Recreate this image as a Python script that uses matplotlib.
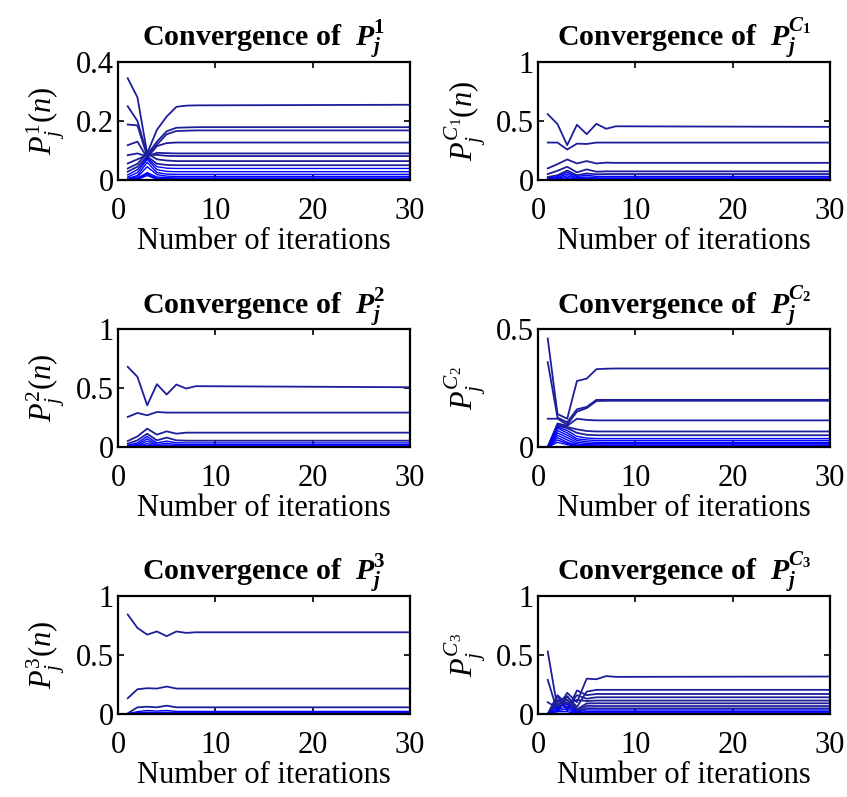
import matplotlib
matplotlib.use("Agg")
import matplotlib.pyplot as plt
from matplotlib.ticker import FormatStrFormatter

plt.rcParams['font.family'] = ['Liberation Serif', 'DejaVu Serif']
plt.rcParams['mathtext.fontset'] = 'custom'
plt.rcParams['mathtext.rm'] = 'Liberation Serif'
plt.rcParams['mathtext.it'] = 'Liberation Serif:italic'
plt.rcParams['mathtext.bf'] = 'Liberation Serif:bold'
plt.rcParams['mathtext.bfit'] = 'Liberation Serif:italic:bold'

# iteration index at which each probability is recorded (flat after 8)
iters = [1, 2, 3, 4, 5, 6, 7, 8, 30]

# P_j^1(n)
p1_series = [
    [0.345, 0.280, 0.090, 0.170, 0.215, 0.248, 0.252, 0.253, 0.255],
    [0.250, 0.200, 0.085, 0.130, 0.165, 0.177, 0.178, 0.179, 0.179],
    [0.188, 0.185, 0.080, 0.120, 0.155, 0.166, 0.167, 0.168, 0.168],
    [0.118, 0.130, 0.075, 0.115, 0.125, 0.127, 0.127, 0.127, 0.127],
    [0.084, 0.090, 0.080, 0.092, 0.091, 0.090, 0.090, 0.090, 0.090],
    [0.056, 0.070, 0.085, 0.085, 0.082, 0.081, 0.081, 0.081, 0.081],
    [0.039, 0.055, 0.090, 0.070, 0.066, 0.064, 0.064, 0.064, 0.064],
    [0.028, 0.045, 0.080, 0.055, 0.051, 0.050, 0.050, 0.050, 0.050],
    [0.017, 0.035, 0.075, 0.045, 0.040, 0.039, 0.039, 0.039, 0.039],
    [0.010, 0.025, 0.070, 0.035, 0.029, 0.028, 0.028, 0.028, 0.028],
    [0.005, 0.015, 0.060, 0.025, 0.020, 0.019, 0.019, 0.019, 0.019],
    [0.003, 0.010, 0.045, 0.018, 0.013, 0.012, 0.012, 0.012, 0.012],
    [0.002, 0.006, 0.025, 0.010, 0.008, 0.007, 0.007, 0.007, 0.007],
    [0.001, 0.004, 0.020, 0.006, 0.004, 0.004, 0.004, 0.004, 0.004],
    [0.001, 0.002, 0.015, 0.003, 0.002, 0.002, 0.002, 0.002, 0.002],
    [0.000, 0.001, 0.022, 0.001, 0.001, 0.001, 0.001, 0.001, 0.001],
]

# P_j^{C_1}(n)
pc1_series = [
    [0.558, 0.474, 0.295, 0.468, 0.388, 0.476, 0.434, 0.455, 0.450],
    [0.317, 0.317, 0.258, 0.308, 0.305, 0.317, 0.317, 0.317, 0.317],
    [0.098, 0.134, 0.174, 0.140, 0.160, 0.140, 0.147, 0.145, 0.145],
    [0.050, 0.078, 0.112, 0.064, 0.090, 0.070, 0.073, 0.073, 0.073],
    [0.025, 0.040, 0.080, 0.040, 0.055, 0.048, 0.050, 0.050, 0.050],
    [0.015, 0.030, 0.065, 0.030, 0.040, 0.030, 0.030, 0.030, 0.030],
    [0.008, 0.020, 0.050, 0.020, 0.025, 0.018, 0.018, 0.018, 0.018],
    [0.004, 0.012, 0.035, 0.012, 0.015, 0.010, 0.010, 0.010, 0.010],
    [0.002, 0.006, 0.020, 0.006, 0.008, 0.005, 0.005, 0.005, 0.005],
    [0.001, 0.003, 0.010, 0.003, 0.004, 0.002, 0.002, 0.002, 0.002],
]

# P_j^2(n)
p2_series = [
    [0.680, 0.595, 0.354, 0.533, 0.445, 0.530, 0.496, 0.516, 0.507],
    [0.255, 0.289, 0.269, 0.297, 0.292, 0.292, 0.292, 0.292, 0.292],
    [0.051, 0.090, 0.156, 0.105, 0.133, 0.113, 0.122, 0.122, 0.122],
    [0.028, 0.057, 0.113, 0.057, 0.080, 0.057, 0.054, 0.054, 0.054],
    [0.015, 0.035, 0.090, 0.035, 0.050, 0.036, 0.035, 0.035, 0.035],
    [0.008, 0.022, 0.070, 0.022, 0.032, 0.022, 0.020, 0.020, 0.020],
    [0.004, 0.012, 0.050, 0.012, 0.018, 0.011, 0.010, 0.010, 0.010],
    [0.002, 0.006, 0.030, 0.006, 0.009, 0.005, 0.005, 0.005, 0.005],
    [0.001, 0.003, 0.015, 0.003, 0.004, 0.002, 0.002, 0.002, 0.002],
]

# P_j^{C_2}
pc2_series = [
    [0.460, 0.140, 0.120, 0.280, 0.290, 0.330, 0.332, 0.333, 0.333],
    [0.360, 0.125, 0.105, 0.160, 0.170, 0.200, 0.200, 0.200, 0.200],
    [0.120, 0.120, 0.095, 0.150, 0.165, 0.195, 0.196, 0.196, 0.196],
    [0.000, 0.100, 0.090, 0.120, 0.115, 0.113, 0.113, 0.113, 0.113],
    [0.000, 0.095, 0.085, 0.075, 0.068, 0.066, 0.066, 0.066, 0.066],
    [0.000, 0.090, 0.080, 0.060, 0.052, 0.050, 0.050, 0.050, 0.050],
    [0.000, 0.085, 0.070, 0.045, 0.038, 0.036, 0.036, 0.036, 0.036],
    [0.000, 0.080, 0.060, 0.035, 0.030, 0.028, 0.028, 0.028, 0.028],
    [0.000, 0.070, 0.050, 0.028, 0.022, 0.020, 0.020, 0.020, 0.020],
    [0.000, 0.060, 0.040, 0.020, 0.015, 0.014, 0.014, 0.014, 0.014],
    [0.000, 0.050, 0.030, 0.013, 0.010, 0.009, 0.009, 0.009, 0.009],
    [0.000, 0.040, 0.020, 0.008, 0.006, 0.005, 0.005, 0.005, 0.005],
    [0.000, 0.030, 0.015, 0.005, 0.003, 0.003, 0.003, 0.003, 0.003],
    [0.000, 0.020, 0.010, 0.003, 0.002, 0.001, 0.001, 0.001, 0.001],
]

# P_j^3(n)
p3_series = [
    [0.844, 0.730, 0.673, 0.700, 0.660, 0.700, 0.688, 0.693, 0.693],
    [0.134, 0.210, 0.219, 0.216, 0.233, 0.216, 0.216, 0.216, 0.216],
    [0.006, 0.057, 0.062, 0.057, 0.071, 0.057, 0.057, 0.057, 0.057],
    [0.002, 0.020, 0.030, 0.025, 0.030, 0.022, 0.022, 0.022, 0.022],
    [0.001, 0.010, 0.015, 0.012, 0.015, 0.011, 0.011, 0.011, 0.011],
    [0.000, 0.005, 0.008, 0.006, 0.008, 0.005, 0.005, 0.005, 0.005],
    [0.000, 0.002, 0.004, 0.003, 0.004, 0.002, 0.002, 0.002, 0.002],
]

# P_j^{C_3}
pc3_series = [
    [0.530, 0.050, 0.180, 0.100, 0.300, 0.295, 0.322, 0.315, 0.318],
    [0.290, 0.020, 0.150, 0.060, 0.190, 0.205, 0.205, 0.205, 0.205],
    [0.000, 0.150, 0.030, 0.200, 0.160, 0.170, 0.170, 0.170, 0.170],
    [0.000, 0.120, 0.050, 0.160, 0.130, 0.142, 0.142, 0.142, 0.142],
    [0.000, 0.160, 0.080, 0.120, 0.110, 0.114, 0.114, 0.114, 0.114],
    [0.000, 0.100, 0.150, 0.040, 0.090, 0.091, 0.091, 0.091, 0.091],
    [0.000, 0.080, 0.120, 0.030, 0.070, 0.068, 0.068, 0.068, 0.068],
    [0.100, 0.050, 0.100, 0.020, 0.050, 0.048, 0.048, 0.048, 0.048],
    [0.000, 0.060, 0.080, 0.015, 0.035, 0.034, 0.034, 0.034, 0.034],
    [0.000, 0.040, 0.060, 0.010, 0.020, 0.020, 0.020, 0.020, 0.020],
    [0.000, 0.030, 0.040, 0.005, 0.010, 0.010, 0.010, 0.010, 0.010],
    [0.000, 0.020, 0.020, 0.003, 0.005, 0.005, 0.005, 0.005, 0.005],
]

panels = [
    (p1_series, r'Convergence of  $\mathbfit{P}_{\mathbfit{j}}^{\mathbf{1}}$', r'$P_j^1(n)$', 0.4, [0, 0.2, 0.4]),
    (pc1_series, r'Convergence of  $\mathbfit{P}_{\mathbfit{j}}^{\mathbfit{C}_{\mathbf{1}}}$', r'$P_j^{C_1}(n)$', 1.0, [0, 0.5, 1]),
    (p2_series, r'Convergence of  $\mathbfit{P}_{\mathbfit{j}}^{\mathbf{2}}$', r'$P_j^2(n)$', 1.0, [0, 0.5, 1]),
    (pc2_series, r'Convergence of  $\mathbfit{P}_{\mathbfit{j}}^{\mathbfit{C}_{\mathbf{2}}}$', r'$P_j^{C_2}$', 0.5, [0, 0.5]),
    (p3_series, r'Convergence of  $\mathbfit{P}_{\mathbfit{j}}^{\mathbf{3}}$', r'$P_j^3(n)$', 1.0, [0, 0.5, 1]),
    (pc3_series, r'Convergence of  $\mathbfit{P}_{\mathbfit{j}}^{\mathbfit{C}_{\mathbf{3}}}$', r'$P_j^{C_3}$', 1.0, [0, 0.5, 1]),
]

# axes boxes in figure fractions: [left, bottom, width, height]
lefts = [0.1393, 0.6352]
bottoms = [0.7742, 0.4391, 0.1041]
w, h = 0.3447, 0.1480

fig = plt.figure(figsize=(8.47, 7.97), dpi=100)
fs = 22
for k, (series, title, ylab, ytop, yt) in enumerate(panels):
    r, c = divmod(k, 2)
    ax = fig.add_axes([lefts[c], bottoms[r], w, h])
    for s in series:
        big = max(s[-1], s[0]) > 0.04
        ax.plot(iters, s, color='#1e1e9a' if big else '#0000ff', lw=1.3 if big else 1.0)
    ax.set_xlim(0, 30)
    ax.set_ylim(0, ytop)
    ax.set_xticks([0, 10, 20, 30])
    ax.set_yticks(yt)
    ax.yaxis.set_major_formatter(FormatStrFormatter('%g'))
    ax.tick_params(direction='in', top=True, right=True, length=4, width=1.2,
                   labelsize=fs)
    ax.tick_params(axis='x', pad=12)
    ax.tick_params(axis='y', pad=3)
    for sp in ax.spines.values():
        sp.set_linewidth(1.6)
    ax.set_xlabel('Number of iterations', fontsize=fs, labelpad=1)
    ax.set_ylabel(ylab, fontsize=fs, labelpad=6)
    ax.set_title(title, fontsize=21.5, fontweight='bold', pad=11)

fig.savefig('out.png', dpi=100)
